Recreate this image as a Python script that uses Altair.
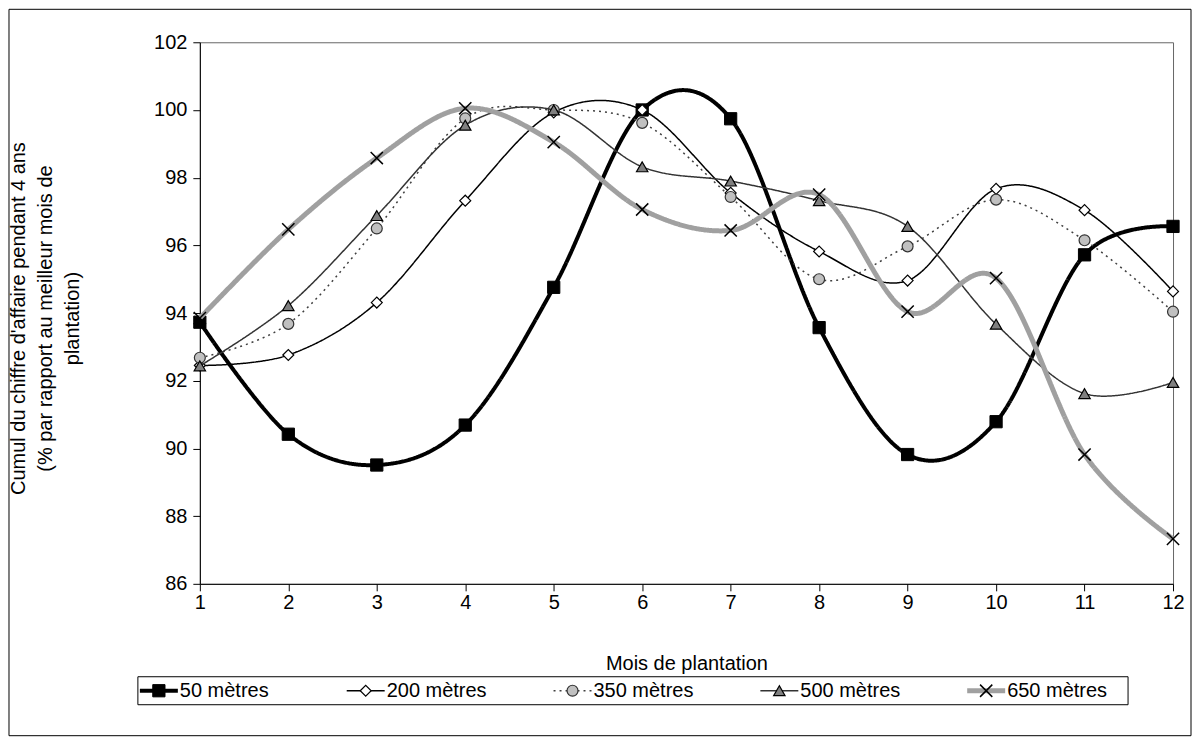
import altair as alt
import pandas as pd

months = list(range(1, 13))
series_names = ["50 mètres", "200 mètres", "350 mètres", "500 mètres", "650 mètres"]
v50 = [93.73, 90.42, 89.51, 90.69, 94.76, 100.0, 99.74, 93.57, 89.82, 90.79, 95.72, 96.56]
v200 = [92.45, 92.76, 94.31, 97.32, 99.93, 100.0, 97.55, 95.82, 94.96, 97.67, 97.04, 94.64]
v350 = [92.68, 93.68, 96.50, 99.75, 100.0, 99.62, 97.43, 95.00, 95.97, 97.35, 96.15, 94.04]
v500 = [92.44, 94.22, 96.88, 99.55, 100.0, 98.32, 97.90, 97.32, 96.56, 93.67, 91.62, 91.95]
v650 = [93.85, 96.47, 98.58, 100.05, 99.05, 97.06, 96.44, 97.50, 94.04, 95.03, 89.82, 87.33]
y_ticks = [86, 88, 90, 92, 94, 96, 98, 100, 102]

values = [v50, v200, v350, v500, v650]

XSHAPE = "M-1,-1L1,1M1,-1L-1,1"
styles = [
    dict(color="#000000", width=4, dash=[1, 0], shape="square", fill="#000000", mstroke="#000000", size=150, msw=1),
    dict(color="#000000", width=1.5, dash=[1, 0], shape="diamond", fill="#ffffff", mstroke="#000000", size=120, msw=1.2),
    dict(color="#404040", width=1.5, dash=[2, 4], shape="circle", fill="#c0c0c0", mstroke="#333333", size=120, msw=1.2),
    dict(color="#333333", width=1.5, dash=[1, 0], shape="triangle-up", fill="#808080", mstroke="#000000", size=130, msw=1.2),
    dict(color="#a0a0a0", width=5, dash=[1, 0], shape=XSHAPE, fill=None, mstroke="#000000", size=150, msw=1.5),
]

FONT = "Liberation Sans"
FS = 20
x_scale = alt.Scale(domain=[1, 12], nice=False, zero=False)
y_scale = alt.Scale(domain=[86, 102], nice=False, zero=False)

x_axis = alt.Axis(values=months, tickSize=7, labelPadding=2, title="Mois de plantation",
                  titleY=80, titleBaseline="middle", grid=False, labelFlush=False)
y_axis = alt.Axis(values=y_ticks, tickSize=7, labelPadding=6, format="d", grid=False,
                  title=["Cumul du chiffre d'affaire pendant 4 ans",
                         "(% par rapport au meilleur mois de", "plantation)"],
                  titleX=-181, titleY=276, titleAlign="center", titleBaseline="middle",
                  titleAngle=-90, titleLineHeight=27)


def point_kwargs(st):
    pkw = dict(shape=st["shape"], size=st["size"], stroke=st["mstroke"], strokeWidth=st["msw"], opacity=1)
    if st["fill"] is None:
        pkw["filled"] = False
    else:
        pkw["filled"] = True
        pkw["fill"] = st["fill"]
    return pkw


main_layers = []
for i, (name, vals) in enumerate(zip(series_names, values)):
    st = styles[i]
    df = pd.DataFrame({"mois": months, "valeur": vals, "serie": name})
    base = alt.Chart(df)
    enc = dict(x=alt.X("mois:Q", scale=x_scale, axis=x_axis),
               y=alt.Y("valeur:Q", scale=y_scale, axis=y_axis))
    line = base.mark_line(interpolate="cardinal", tension=0, color=st["color"], strokeWidth=st["width"],
                          strokeDash=st["dash"]).encode(**enc)
    pts = base.mark_point(**point_kwargs(st)).encode(**enc)
    main_layers += [line, pts]

main = alt.layer(*main_layers)

# legend built from the series names through a point scale
LEG_Y = 649
leg_scale = alt.Scale(type="point", domain=series_names, range=[-41, 787], padding=0)
leg_layers = []
for i, name in enumerate(series_names):
    st = styles[i]
    ldf = pd.DataFrame({"serie": [name]})
    lb = alt.Chart(ldf)
    lx = alt.X("serie:N", scale=leg_scale, axis=None)
    r = lb.mark_rule(color=st["color"], strokeWidth=st["width"], strokeDash=st["dash"],
                     xOffset=-19, x2Offset=19).encode(x=lx, x2="serie:N", y=alt.value(LEG_Y))
    p = lb.mark_point(**point_kwargs(st)).encode(x=lx, y=alt.value(LEG_Y))
    t = lb.mark_text(align="left", baseline="middle", dx=21, font=FONT, fontSize=FS, color="#000").encode(
        x=lx, y=alt.value(LEG_Y), text="serie:N")
    leg_layers += [r, p, t]

frame_df = pd.DataFrame({"k": [0]})
leg_box = alt.Chart(frame_df).mark_rect(fill="white", stroke="#000", strokeWidth=1).encode(
    x=alt.value(-62), x2=alt.value(929), y=alt.value(635), y2=alt.value(663))
legend = alt.layer(leg_box, *leg_layers)

border = alt.Chart(frame_df).mark_rect(fill=None, stroke="#000", strokeWidth=1).encode(
    x=alt.value(-191), x2=alt.value(992), y=alt.value(-33), y2=alt.value(694))

chart = alt.layer(main, legend, border).resolve_scale(x="independent").properties(
    width=974, height=542, padding=0, background="white"
).configure_view(stroke="#666666", strokeWidth=1).configure_axis(
    domainColor="#000", tickColor="#000", labelColor="#000", titleColor="#000",
    labelFont=FONT, titleFont=FONT, labelFontSize=FS, titleFontSize=FS, titleFontWeight="normal"
)

chart.save("out.html", embed_options={"renderer": "svg", "actions": False})
